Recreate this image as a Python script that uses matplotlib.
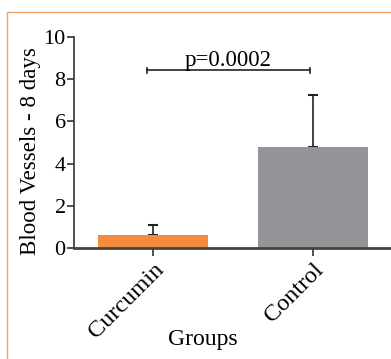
import matplotlib
matplotlib.use("Agg")
import matplotlib.pyplot as plt
import matplotlib.transforms as mtransforms
from matplotlib.patches import Rectangle

categories = ["Curcumin", "Control"]
means = [0.6, 4.8]
errors_up = [0.5, 2.45]
colors = ["#F58B3C", "#949599"]
p_text = "p=0.0002"
bracket_y = 8.42
y_ticks = [0, 2, 4, 6, 8, 10]

plt.rcParams['font.family'] = ['Liberation Serif', 'DejaVu Serif']

W, H = 391, 359
fig = plt.figure(figsize=(W/100, H/100), dpi=100)
fig.patches.append(Rectangle((7/W, -0.1), 1.2, (H-12)/H + 0.1, transform=fig.transFigure,
                             fill=False, edgecolor="#F2A46A", linewidth=1.0))

ax = fig.add_axes([74/W, 111/H, 1 - 74/W, (248-37)/H])
x = list(range(len(categories)))
ax.bar(x, means, width=0.6875, color=colors, zorder=2)
ax.errorbar(x, means, yerr=[[0]*len(means), errors_up], fmt='none', ecolor='#222222',
            elinewidth=1.2, capsize=3.5, capthick=1.5, zorder=1)

ax.set_xlim(-0.494, 1.49)
ax.set_ylim(0, 10)
ax.set_yticks(y_ticks)
ax.set_xticks(x)
ax.set_xticklabels(categories, rotation=45, ha='right', rotation_mode='anchor', fontsize=17.5)
offset = mtransforms.ScaledTranslation(-4/100, 0, fig.dpi_scale_trans)
for lbl in ax.get_xticklabels():
    lbl.set_transform(lbl.get_transform() + offset)
ax.tick_params(axis='y', labelsize=16, length=5, width=1.2, color='#333333', pad=1)
ax.tick_params(axis='x', length=6, width=1.2, color='#333333', pad=2)
for s in ['top', 'right']:
    ax.spines[s].set_visible(False)
ax.spines['left'].set_linewidth(1.2)
ax.spines['left'].set_color('#333333')
ax.spines['bottom'].set_linewidth(2.0)
ax.spines['bottom'].set_color('#444444')

# significance bracket
x0, x1 = -0.036, 0.98
ax.plot([x0, x1], [bracket_y, bracket_y], color='#222222', lw=1.2, clip_on=False)
ax.plot([x0, x0], [bracket_y-0.12, bracket_y+0.12], color='#222222', lw=1.2)
ax.plot([x1, x1], [bracket_y-0.12, bracket_y+0.12], color='#222222', lw=1.2)
ax.text((x0+x1)/2, bracket_y - 0.02, p_text, ha='center', va='bottom', fontsize=16.5)

ax.set_ylabel("Blood Vessels - 8 days", fontsize=16.5)
ax.yaxis.set_label_coords(-0.104, 0.46)
ax.set_xlabel("Groups", fontsize=17)
ax.xaxis.set_label_coords(0.407, -0.384)

fig.savefig("out.png", dpi=100)
